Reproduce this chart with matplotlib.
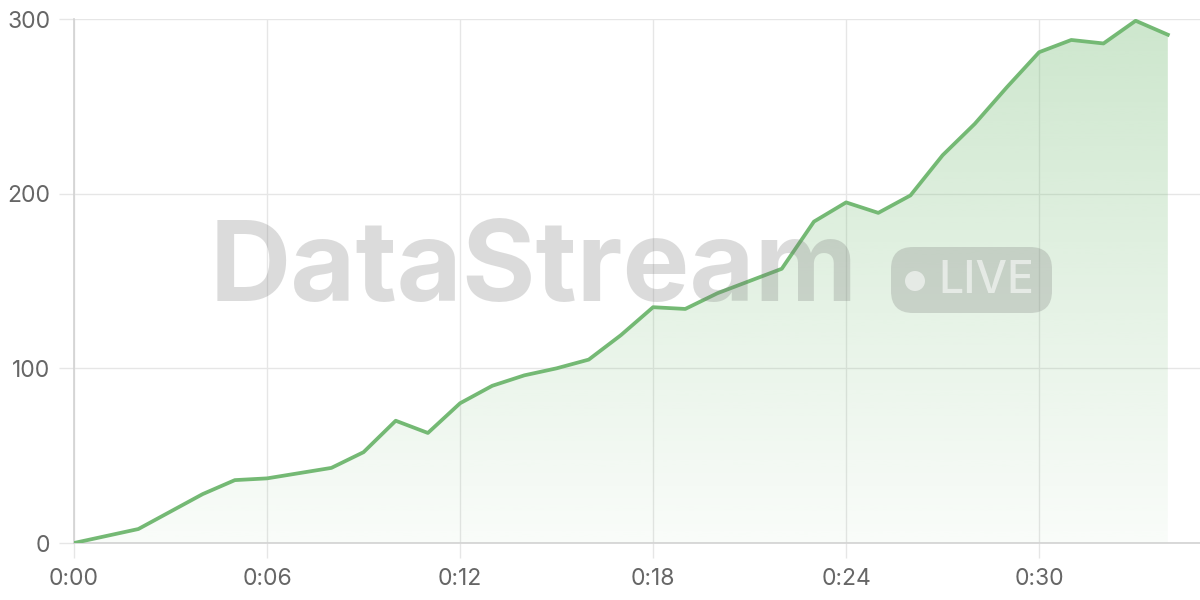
import numpy as np
import matplotlib.pyplot as plt
from matplotlib.patches import FancyBboxPatch, Circle

# minutes since start and value
minutes = list(range(35))
values = [0, 4, 8, 18, 28, 36, 37, 40, 43, 52, 70, 63, 80, 90, 96, 100, 105, 119,
          135, 134, 143, 150, 157, 184, 195, 189, 199, 222, 240, 261, 281, 288,
          286, 299, 291]
x_ticks = [0, 6, 12, 18, 24, 30]
x_labels = ["0:%02d" % m for m in x_ticks]
y_ticks = [0, 100, 200, 300]

green = "#74b974"

fig = plt.figure(figsize=(12, 6), dpi=100)
ax = fig.add_axes([74 / 1200, 57 / 600, 1 - 74 / 1200, 524 / 600])
ax.set_xlim(0, 35)
ax.set_ylim(0, 300)

# gradient fill under the line
poly = ax.fill_between(minutes, values, 0, color="none", lw=0)
grad = np.zeros((256, 1, 4))
grad[:, 0, :3] = np.array([116, 187, 116]) / 255
grad[:, 0, 3] = np.linspace(0.36, 0.04, 256)
img = ax.imshow(grad, extent=[0, 35, 0, 300], aspect="auto", origin="upper", zorder=1)
img.set_clip_path(poly.get_paths()[0], transform=ax.transData)

ax.plot(minutes, values, color=green, lw=2.7, zorder=4, solid_joinstyle="round")

# grid and axes
ax.set_xticks(x_ticks)
ax.set_xticklabels(x_labels)
ax.set_yticks(y_ticks)
ax.grid(True, color="#e6e6e6", lw=1)
ax.set_axisbelow(True)
for s in ["top", "right"]:
    ax.spines[s].set_visible(False)
for s in ["left", "bottom"]:
    ax.spines[s].set_color("#d2d2d2")
    ax.spines[s].set_linewidth(1.2)
ax.tick_params(length=11, width=1, color="#e6e6e6", labelcolor="#666666",
               labelsize=16.5, pad=6)
ax.tick_params(axis="x", pad=7)
for lbl in ax.get_xticklabels() + ax.get_yticklabels():
    lbl.set_family(["Inter", "DejaVu Sans"])

# watermark, on an overlay in pixel units
ov = fig.add_axes([0, 0, 1, 1], facecolor="none")
ov.set_xlim(0, 1200)
ov.set_ylim(600, 0)
ov.axis("off")
wm = dict(color=(0.45, 0.45, 0.45), alpha=0.25)
ov.text(534, 272, "DataStream", ha="center", va="center",
        fontsize=81, fontweight="bold", family=["Inter", "DejaVu Sans"], **wm)
ov.add_patch(FancyBboxPatch((891, 247), 161, 66,
                            boxstyle="round,pad=0,rounding_size=22", lw=0, **wm))
ov.add_patch(Circle((915, 281), 10, color="white", alpha=0.55, lw=0))
ov.text(986, 281, "LIVE", ha="center", va="center", fontsize=32,
        fontweight="medium", color="white", alpha=0.55,
        family=["Inter", "DejaVu Sans"])

fig.savefig("out.png", dpi=100)
